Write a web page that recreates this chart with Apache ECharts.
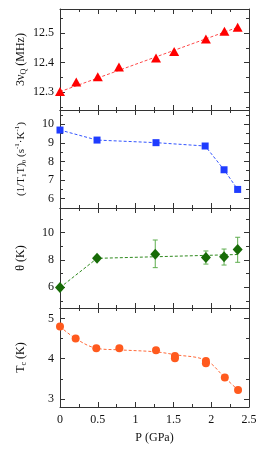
<!DOCTYPE html>
<html><head><meta charset="utf-8">
<script src="https://cdn.jsdelivr.net/npm/echarts@6/dist/echarts.min.js"></script>
<style>html,body{margin:0;padding:0;background:#fff}#c{width:266px;height:450px}</style>
</head><body><div id="c"></div><script>
// ---- data ----
const pressure1 = [0, 0.215, 0.5, 0.78, 1.27, 1.51, 1.93, 2.175, 2.35];
const nuQ = [12.303, 12.335, 12.353, 12.386, 12.416, 12.438, 12.48, 12.507, 12.52];
const nuQFitP = [0, 2.35];
const nuQFit = [12.302, 12.52];

const pressure2 = [0, 0.49, 1.27, 1.92, 2.17, 2.35];
const invT1T = [9.69, 9.15, 9.01, 8.83, 7.55, 6.49];

const pressure3 = [0, 0.49, 1.26, 1.93, 2.17, 2.35];
const theta = [5.98, 8.12, 8.41, 8.19, 8.24, 8.76];
const thetaLow = [null, null, 7.44, 7.70, 7.63, 7.83];
const thetaHigh = [null, null, 9.46, 8.66, 8.80, 9.66];
const thetaGuideP = [0, 0.49, 2.35];
const thetaGuide = [5.98, 8.12, 8.40];

const pressure4 = [0, 0.207, 0.48, 0.785, 1.27, 1.52, 1.52, 1.93, 1.93, 2.18, 2.355];
const tc = [4.80, 4.50, 4.26, 4.26, 4.21, 4.07, 4.01, 3.94, 3.89, 3.53, 3.22];
const tcGuideP = [0, 0.207, 0.48, 0.785, 1.27, 1.52, 1.93, 2.18, 2.355];
const tcGuide = [4.80, 4.50, 4.26, 4.22, 4.17, 4.10, 3.96, 3.53, 3.22];

// tick labels / tick positions
const xLabels = [0, 0.5, 1, 1.5, 2, 2.5];
const xMinor = [0.25, 0.75, 1.25, 1.75, 2.25];
const y1Labels = [12.3, 12.4, 12.5];
const y1Minor = [12.25, 12.35, 12.45, 12.55];
const y2Labels = [6, 7, 8, 9, 10];
const y2Minor = [5.5, 6.5, 7.5, 8.5, 9.5, 10.5];
const y3Labels = [6, 8, 10];
const y3Minor = [5, 7, 9, 11];
const y4Labels = [3, 4, 5];
const y4Minor = [3.5, 4.5];

const yRanges = [[12.24, 12.582], [5.49, 10.77], [4.49, 11.8], [2.8, 5.26]];
const yNames = [
  '{a|3ν}{s|Q}{a| (MHz)}',
  '{b|(1/T}{t|1}{b|T)}{t|0}{b| (s}{v|-1}{b|·K}{v|-1}{b|)}',
  '{a|θ (K)}',
  '{a|T}{s|c}{a| (K)}'
];
const yLabelSets = [y1Labels, y2Labels, y3Labels, y4Labels];
const yMinorSets = [y1Minor, y2Minor, y3Minor, y4Minor];

// ---- layout ----
const FONT = '"Liberation Serif", "Times New Roman", serif';
const AX = '#333';
const tops = [9, 110, 208, 308];
const heights = [101, 98, 100, 99];
const grids = tops.map((t, i) => ({left: 60, width: 189, top: t, height: heights[i]}));

const rich = {
  a: {fontFamily: FONT, fontSize: 12, color: '#111', lineHeight: 15},
  s: {fontFamily: FONT, fontSize: 8, color: '#111', verticalAlign: 'bottom'},
  u: {fontFamily: FONT, fontSize: 8, color: '#111', verticalAlign: 'top'},
  b: {fontFamily: FONT, fontSize: 11, color: '#111', lineHeight: 14},
  t: {fontFamily: FONT, fontSize: 7, color: '#111', verticalAlign: 'bottom'},
  v: {fontFamily: FONT, fontSize: 7, color: '#111', verticalAlign: 'top'}
};

const xAxis = [];
const yAxis = [];
const xMainIdx = [];
const yMainIdx = [];
for (let g = 0; g < 4; g++) {
  const last = g === 3;
  xMainIdx.push(xAxis.length);
  xAxis.push({
    type: 'value', gridIndex: g, position: 'bottom', min: 0, max: 2.5,
    axisLine: {show: true, onZero: false, lineStyle: {color: AX, width: 1}},
    axisTick: {show: true, inside: true, length: 5, customValues: xLabels, lineStyle: {color: AX}},
    axisLabel: {show: last, customValues: xLabels, margin: 7, fontFamily: FONT, fontSize: 12, color: '#111'},
    splitLine: {show: false},
    name: last ? 'P (GPa)' : '', nameLocation: 'middle', nameGap: 25, nameMoveOverlap: false,
    nameTextStyle: {fontFamily: FONT, fontSize: 12, color: '#111'}
  });
  xAxis.push({
    type: 'value', gridIndex: g, position: 'bottom', min: 0, max: 2.5,
    axisLine: {show: false, onZero: false},
    axisTick: {show: true, inside: true, length: 3, customValues: xMinor, lineStyle: {color: AX}},
    axisLabel: {show: false}, splitLine: {show: false}
  });
  xAxis.push({
    type: 'value', gridIndex: g, position: 'top', min: 0, max: 2.5,
    axisLine: {show: true, onZero: false, lineStyle: {color: AX, width: 1}},
    axisTick: {show: true, inside: true, length: 5, customValues: xLabels, lineStyle: {color: AX}},
    axisLabel: {show: false}, splitLine: {show: false}
  });
  xAxis.push({
    type: 'value', gridIndex: g, position: 'top', min: 0, max: 2.5,
    axisLine: {show: false, onZero: false},
    axisTick: {show: true, inside: true, length: 3, customValues: xMinor, lineStyle: {color: AX}},
    axisLabel: {show: false}, splitLine: {show: false}
  });

  const [mn, mx] = yRanges[g];
  yMainIdx.push(yAxis.length);
  yAxis.push({
    type: 'value', gridIndex: g, position: 'left', min: mn, max: mx,
    axisLine: {show: true, onZero: false, lineStyle: {color: AX, width: 1}},
    axisTick: {show: true, inside: true, length: 5, customValues: yLabelSets[g], lineStyle: {color: AX}},
    axisLabel: {show: true, customValues: yLabelSets[g], margin: 6, fontFamily: FONT, fontSize: 12, color: '#111'},
    splitLine: {show: false},
    name: yNames[g], nameLocation: 'middle', nameGap: 32, nameRotate: 90, nameMoveOverlap: false,
    nameTextStyle: {rich: rich}
  });
  yAxis.push({
    type: 'value', gridIndex: g, position: 'left', min: mn, max: mx,
    axisLine: {show: false, onZero: false},
    axisTick: {show: true, inside: true, length: 3, customValues: yMinorSets[g], lineStyle: {color: AX}},
    axisLabel: {show: false}, splitLine: {show: false}
  });
  yAxis.push({
    type: 'value', gridIndex: g, position: 'right', min: mn, max: mx,
    axisLine: {show: true, onZero: false, lineStyle: {color: AX, width: 1}},
    axisTick: {show: true, inside: true, length: 5, customValues: yLabelSets[g], lineStyle: {color: AX}},
    axisLabel: {show: false}, splitLine: {show: false}
  });
  yAxis.push({
    type: 'value', gridIndex: g, position: 'right', min: mn, max: mx,
    axisLine: {show: false, onZero: false},
    axisTick: {show: true, inside: true, length: 3, customValues: yMinorSets[g], lineStyle: {color: AX}},
    axisLabel: {show: false}, splitLine: {show: false}
  });
}

const zip = (a, b) => a.map((v, i) => [v, b[i]]);
const guide = (g, data, color, smooth) => ({
  type: 'line', xAxisIndex: xMainIdx[g], yAxisIndex: yMainIdx[g], data: data,
  symbol: 'none', smooth: smooth ? 0.35 : false, silent: true,
  lineStyle: {color: color, width: 1, type: [3, 2]}, z: 2
});
const marks = (g, data, symbol, size, color) => ({
  type: 'line', xAxisIndex: xMainIdx[g], yAxisIndex: yMainIdx[g], data: data,
  symbol: symbol, symbolSize: size, showSymbol: true,
  lineStyle: {width: 0, opacity: 0},
  itemStyle: {color: color, opacity: 1}, z: 5
});

const errData = pressure3.map((p, i) => [p, thetaLow[i], thetaHigh[i]]).filter(d => d[1] !== null);

const series = [
  guide(0, zip(nuQFitP, nuQFit), '#ff4a4a', false),
  marks(0, zip(pressure1, nuQ), 'triangle', [10, 9], '#ff0000'),
  guide(1, zip(pressure2, invT1T), '#3355ff', false),
  marks(1, zip(pressure2, invT1T), 'rect', 7, '#1f3cff'),
  guide(2, zip(thetaGuideP, thetaGuide), '#2f8a1e', false),
  {
    type: 'custom', xAxisIndex: xMainIdx[2], yAxisIndex: yMainIdx[2], data: errData, z: 3,
    renderItem: function (params, api) {
      const x = api.value(0);
      const lo = api.coord([x, api.value(1)]);
      const hi = api.coord([x, api.value(2)]);
      const c = 2.5;
      const st = {stroke: '#5fae4f', lineWidth: 1};
      return {type: 'group', children: [
        {type: 'line', shape: {x1: lo[0], y1: lo[1], x2: hi[0], y2: hi[1]}, style: st},
        {type: 'line', shape: {x1: lo[0] - c, y1: lo[1], x2: lo[0] + c, y2: lo[1]}, style: st},
        {type: 'line', shape: {x1: hi[0] - c, y1: hi[1], x2: hi[0] + c, y2: hi[1]}, style: st}
      ]};
    }
  },
  marks(2, zip(pressure3, theta), 'diamond', [10, 11], '#176b07'),
  guide(3, zip(tcGuideP, tcGuide), '#ff6a3a', true),
  marks(3, zip(pressure4, tc), 'circle', 8, '#ff5a1e')
];

const chart = echarts.init(document.getElementById('c'), null, {renderer: 'canvas'});
chart.setOption({
  animation: false,
  backgroundColor: '#fff',
  grid: grids,
  xAxis: xAxis,
  yAxis: yAxis,
  series: series
});
</script></body></html>
